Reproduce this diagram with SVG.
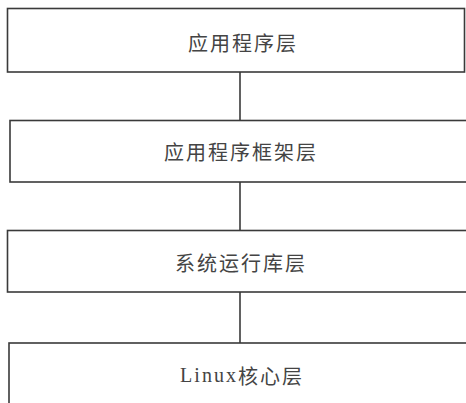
<svg xmlns="http://www.w3.org/2000/svg" width="466" height="403" viewBox="0 0 466 403">
<style>
.box{fill:#fff;stroke:#3a3a3a;stroke-width:1.6}
.lbl{font-family:"Noto Sans CJK SC","Noto Sans",sans-serif;font-size:20px;fill:#444;text-anchor:middle;dominant-baseline:central;letter-spacing:2px}
.lat{font-family:"Liberation Serif",serif}
.con{stroke:#3a3a3a;stroke-width:1.6;fill:none}
</style>
<rect width="466" height="403" fill="#fff"/>
<g id="connectors">
<line class="con" x1="240" y1="72" x2="240" y2="120"/>
<line class="con" x1="240" y1="182" x2="240" y2="230"/>
<line class="con" x1="240" y1="292" x2="240" y2="343"/>
</g>
<g id="app">
<rect class="box" x="7.5" y="8.5" width="457" height="63.5"/>
<text class="lbl" x="243" y="42">应用程序层</text>
</g>
<g id="framework">
<rect class="box" x="10" y="120.5" width="462" height="61.5"/>
<text class="lbl" x="241" y="151">应用程序框架层</text>
</g>
<g id="runtime">
<rect class="box" x="7.5" y="230.5" width="464" height="61.5"/>
<text class="lbl" x="241" y="262">系统运行库层</text>
</g>
<g id="kernel">
<rect class="box" x="9" y="343" width="462" height="70"/>
<text class="lbl" x="242" y="375"><tspan class="lat">Linux</tspan>核心层</text>
</g>
</svg>
